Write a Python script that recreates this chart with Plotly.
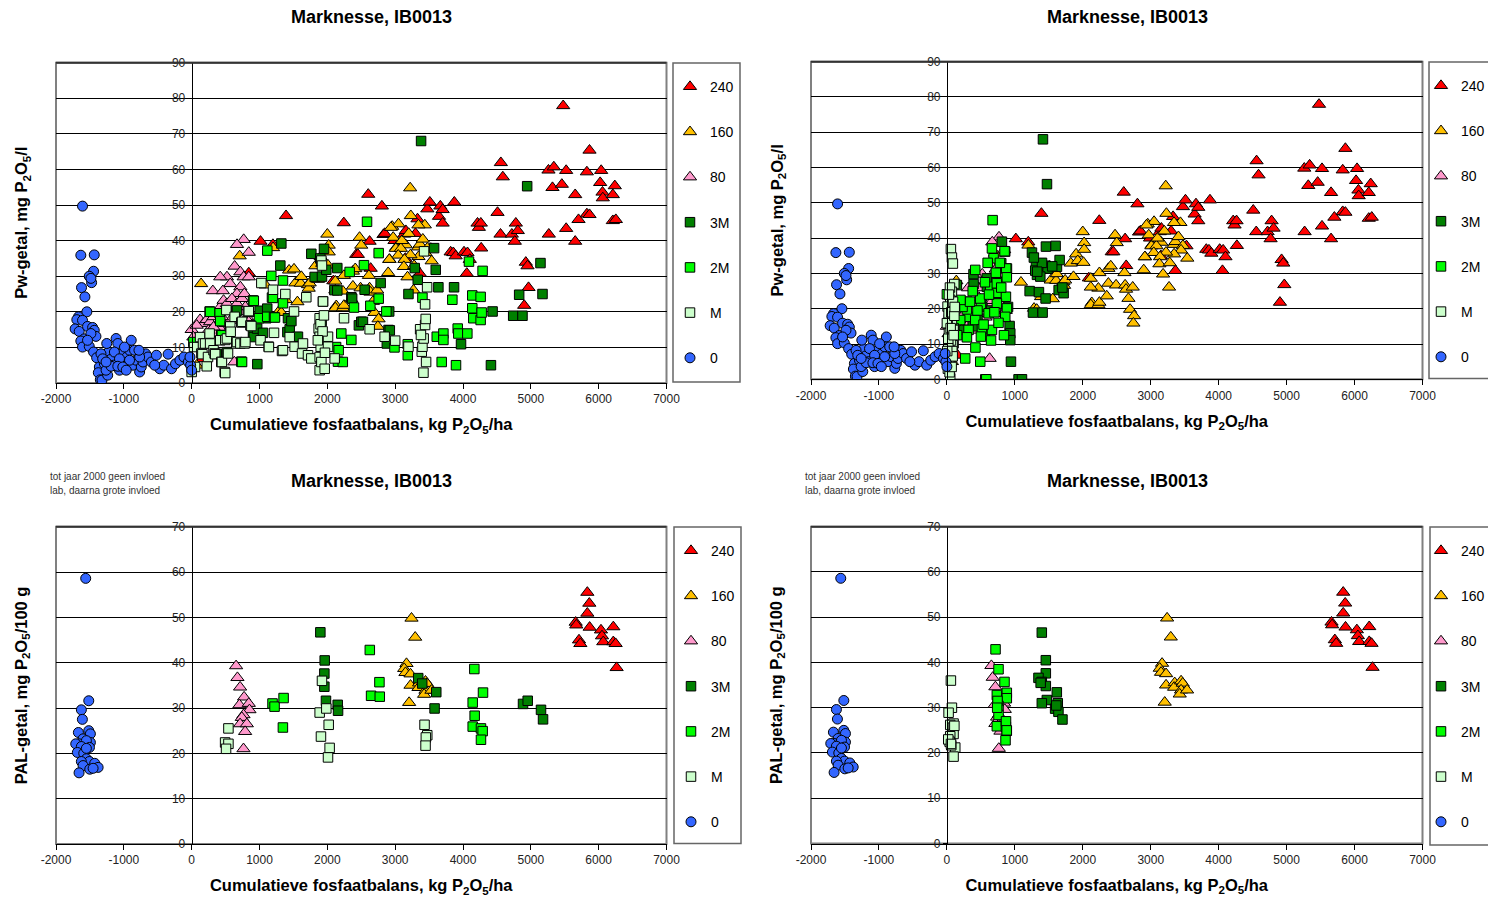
import plotly.graph_objects as go

# ---------------- data ----------------
X_TICKS = [-2000, -1000, 0, 1000, 2000, 3000, 4000, 5000, 6000, 7000]
X_TICKTEXT = ["-2000", "-1000", "0", "1000", "2000", "3000", "4000", "5000", "6000", "7000"]
Y_TICKS_TOP = [0, 10, 20, 30, 40, 50, 60, 70, 80, 90]
Y_TICKS_BOT = [0, 10, 20, 30, 40, 50, 60, 70]
SERIES_NAMES = ["240", "160", "80", "3M", "2M", "M", "0"]

# Pw-getal panels (top) - series shared by both top panels
TOP_0 = [(-1609, 49.7), (-1634, 35.9), (-1436, 36.0), (-1446, 31.4), (-1510, 30.0), (-1475, 28.2),
         (-1485, 29.4), (-1624, 26.8), (-1574, 24.2), (-1545, 20.0), (-1668, 18.6), (-1693, 17.8),
         (-1718, 15.2), (-1658, 14.5), (-1609, 17.6), (-1535, 15.9), (-1460, 15.6), (-1436, 14.8),
         (-1584, 12.4), (-1634, 11.8), (-1609, 10.1), (-1510, 10.3), (-1446, 8.7), (-1411, 13.1),
         (-1401, 7.1), (-1361, 4.5), (-1376, 2.9), (-1347, 0.9), (-1322, 0.8), (-1238, 2.2),
         (-1287, 5.4), (-1223, 8.7), (-1252, 11.1), (-1198, 6.6), (-1114, 12.5), (-1089, 11.1),
         (-1153, 5.0), (-1064, 3.6), (-1015, 8.4), (-990, 5.9), (-955, 7.3), (-891, 12.0),
         (-916, 9.2), (-866, 5.0), (-817, 6.4), (-767, 3.1), (-743, 4.5), (-718, 5.9), (-678, 8.2),
         (-644, 7.3), (-594, 5.9), (-520, 7.8), (-470, 4.0), (-411, 5.0), (-347, 8.1), (-297, 4.0),
         (-238, 5.4), (-173, 6.4), (-114, 7.3), (-50, 5.9), (-15, 5.0), (0, 3.6), (-25, 7.3),
         (-990, 10.1), (-916, 6.4), (-1262, 3.6), (-1139, 8.7), (-1064, 6.8), (-1188, 4.7),
         (-1089, 4.7), (-842, 9.2), (-767, 7.3), (-1485, 13.9), (-1535, 12.0), (-1337, 8.2),
         (-1312, 6.8), (-1262, 5.9), (-1015, 4.5), (-965, 3.6), (-777, 9.2), (-545, 5.0)]

TOP_80 = [(767, 40.3), (668, 38.9), (842, 36.7), (634, 32.8), (718, 31.2), (520, 29.8), (421, 29.8),
          (767, 29.8), (842, 29.8), (569, 27.9), (718, 27.0), (312, 25.9), (460, 25.9), (668, 25.1),
          (124, 17.8), (173, 16.7), (223, 17.8), (272, 17.2), (322, 18.6), (371, 19.5), (421, 21.4),
          (470, 23.2), (520, 22.3), (594, 23.7), (644, 20.9), (718, 20.0), (792, 21.4), (817, 18.6),
          (421, 15.3), (371, 13.9), (495, 16.7), (569, 17.6), (629, 5.9), (0, 15.0), (25, 12.9),
          (74, 16.2), (248, 14.8), (322, 15.7), (446, 18.6), (495, 20.0), (668, 22.3), (743, 23.7),
          (777, 25.1), (842, 17.2), (866, 19.5)]

TOP_160 = [(74, 5.0), (139, 27.9), (708, 35.7), (1090, 27.5), (1200, 38.0), (1283, 20.1), (1322, 19.8),
           (1386, 23.4), (1436, 31.7), (1509, 32.0), (1528, 28.1), (1559, 22.8), (1608, 28.0),
           (1617, 29.9), (1715, 27.6), (1725, 26.6), (1740, 28.1), (1824, 32.9), (1863, 29.1),
           (1902, 35.5), (1926, 33.6), (2000, 41.8), (2020, 38.7), (2020, 36.8), (2010, 33.1),
           (2118, 28.6), (2132, 21.7), (2118, 21.1), (2230, 21.1), (2245, 21.8), (2230, 25.8),
           (2118, 26.1), (2245, 30.2), (2353, 23.6), (2377, 27.2), (2377, 31.4), (2412, 32.1),
           (2475, 40.9), (2500, 38.7), (2490, 26.7), (2623, 26.7), (2637, 25.5), (2735, 26.1),
           (2672, 22.9), (2696, 19.8), (2755, 18.0), (2745, 15.9), (2613, 30.2), (2956, 44.0),
           (3049, 44.7), (2971, 40.9), (3015, 38.1), (2917, 34.7), (2897, 31.0), (3221, 54.8),
           (3231, 47.0), (2937, 43.7), (3437, 44.4), (3157, 38.8), (3010, 37.8), (3084, 37.8),
           (3340, 38.2), (3363, 39.0), (3408, 40.4), (3474, 37.9), (3538, 34.3), (3447, 36.6),
           (3344, 35.5), (3225, 36.0), (3045, 35.9), (2913, 34.7), (3137, 34.7), (3128, 32.7),
           (3182, 29.8), (3270, 26.1), (3100, 40.0), (3280, 33.0), (3200, 42.0), (3343, 44.4)]

TOP_240 = [(158, 6.8), (842, 30.9), (1015, 39.8), (1198, 38.9), (1391, 47.0), (2089, 28.7), (2243, 45.0),
           (2426, 36.1), (2450, 36.1), (2603, 53.0), (2623, 39.8), (2639, 32.2), (2804, 49.7),
           (2828, 41.7), (2847, 42.0), (2990, 40.0), (3133, 41.8), (3150, 35.0), (3157, 42.8),
           (3300, 42.0), (3329, 46.1), (3363, 30.8), (3474, 48.9), (3511, 50.8), (3526, 37.8),
           (3646, 46.8), (3666, 49.7), (3700, 48.7), (3700, 44.9), (3818, 36.8), (3857, 36.6),
           (3872, 50.8), (3892, 35.7), (4015, 36.8), (4056, 30.8), (4066, 36.6), (4100, 34.7),
           (4214, 44.9), (4234, 43.7), (4263, 44.9), (4268, 37.9), (4509, 47.9), (4553, 41.8),
           (4558, 61.9), (4587, 57.9), (4720, 41.8), (4764, 39.8), (4779, 44.9), (4808, 42.8),
           (4902, 21.8), (4926, 33.9), (4951, 32.9), (4966, 26.8), (5260, 59.8), (5265, 41.8),
           (5319, 54.9), (5339, 60.7), (5457, 55.8), (5477, 77.9), (5521, 59.7), (5521, 43.4),
           (5654, 52.9), (5654, 39.8), (5703, 45.9), (5826, 59.3), (5826, 47.5), (5865, 65.4),
           (5865, 47.3), (6022, 56.3), (6037, 59.7), (6057, 53.6), (6061, 52.0), (6209, 52.9),
           (6209, 45.6), (6238, 55.4), (6253, 45.9)]

# top-left manure series
TL_M = [(0, 3.1), (35, 10.1), (50, 4.5), (124, 12.9), (143, 8.3), (158, 8.1), (167, 11.1), (198, 11.1),
        (223, 4.7), (241, 7.3), (265, 13.9), (272, 11.1), (322, 9.2), (339, 8.3), (347, 8.1), (421, 12.0),
        (437, 5.9), (446, 5.9), (486, 3.1), (495, 2.8), (496, 12.1), (511, 20.5), (520, 12.5), (536, 8.3),
        (560, 16.0), (569, 15.9), (575, 14.4), (634, 18.6), (658, 11.1), (668, 11.5), (718, 11.1),
        (732, 17.0), (743, 17.2), (781, 11.1), (792, 11.5), (830, 20.1), (842, 20.2), (866, 16.2),
        (880, 16.0), (1015, 12.0), (1027, 28.1), (1135, 10.2), (1139, 10.1), (1199, 26.2), (1214, 14.1),
        (1332, 9.0), (1346, 9.2), (1381, 25.0), (1445, 12.9), (1509, 20.1), (1518, 10.2), (1627, 8.3),
        (1641, 11.1), (1690, 24.1), (1715, 7.8), (1764, 6.9), (1872, 15.3), (1887, 18.2), (1887, 13.0),
        (1887, 7.3), (1887, 3.6), (1902, 10.2), (1912, 5.9), (1912, 34.4), (1921, 33.0), (1936, 22.9),
        (1961, 4.0), (2010, 10.2), (2010, 13.0), (2108, 6.9), (2246, 18.2), (2624, 15.1), (2845, 13.0),
        (1900, 16.5), (1950, 19.0), (1930, 14.5), (1860, 12.0), (1965, 8.5), (3000, 11.9), (3196, 10.2),
        (3368, 15.1), (3392, 8.8), (3402, 10.2), (3417, 2.9), (3426, 37.0), (3441, 22.1), (3441, 16.3),
        (3456, 5.9), (3471, 26.9), (3420, 12.5), (3380, 13.5), (3450, 18.0)]

TL_2M = [(25, 11.5), (265, 20.1), (272, 20.0), (413, 19.6), (421, 17.4), (437, 13.5), (446, 13.4),
         (732, 6.0), (743, 5.9), (904, 23.2), (916, 23.1), (993, 18.2), (1114, 18.6), (1115, 37.2),
         (1174, 30.1), (1184, 24.0), (1198, 23.9), (1214, 18.5), (1228, 18.4), (1346, 28.8), (1346, 22.4),
         (2129, 10.1), (2157, 6.0), (2167, 9.2), (2206, 13.9), (2228, 5.9), (2329, 31.2), (2354, 12.1),
         (2393, 21.2), (2540, 33.1), (2585, 45.3), (2634, 21.7), (2757, 36.5), (2757, 23.7), (2870, 20.1),
         (2990, 10.0), (3186, 10.9), (3186, 7.8), (3402, 24.0), (3613, 13.0), (3686, 5.9), (3711, 13.9),
         (3711, 12.1), (3843, 23.4), (3897, 5.0), (3922, 15.3), (3931, 13.9), (4064, 13.9), (4088, 34.1),
         (4137, 24.6), (4137, 21.0), (4152, 18.2), (4260, 24.2), (4260, 17.7), (4275, 19.8), (4289, 31.5)]

TL_3M = [(371, 8.2), (520, 8.7), (658, 20.1), (668, 20.4), (904, 14.1), (916, 12.9), (965, 15.3),
         (968, 5.3), (1002, 20.3), (1051, 14.1), (1100, 18.2), (1114, 20.9), (1307, 33.0), (1322, 39.2),
         (1411, 14.3), (1420, 18.2), (1445, 15.1), (1470, 17.4), (1545, 12.9), (1567, 13.0), (1764, 36.3),
         (1813, 29.8), (1896, 35.0), (1916, 17.4), (1921, 29.9), (1936, 22.9), (1951, 37.7), (1985, 31.8),
         (2104, 26.1), (2147, 32.3), (2147, 26.0), (2354, 24.1), (2366, 23.7), (2465, 16.2), (2501, 17.2),
         (2525, 17.2), (2550, 26.2), (2786, 28.1), (2877, 11.1), (2902, 14.9), (2912, 20.1), (2921, 14.8),
         (3196, 25.0), (3289, 32.3), (3333, 29.0), (3382, 68.0), (3574, 37.9), (3598, 31.8), (3637, 26.9),
         (3868, 26.9), (3971, 10.9), (4412, 5.0), (4436, 20.1), (4740, 18.9), (4828, 24.8), (4877, 18.9),
         (4946, 55.3), (5142, 33.7), (5172, 25.0)]

# top-right manure series
TR_M = [(59, 36.9), (74, 34.5), (88, 32.8), (108, 27.0), (74, 24.8), (49, 22.5), (59, 20.2), (10, 20.6),
        (39, 17.7), (74, 16.8), (10, 15.8), (98, 14.0), (74, 12.1), (98, 10.2), (88, 9.7), (49, 7.8),
        (49, 5.9), (49, 0.3), (25, 18.7), (0, 15.9), (30, 13.0), (60, 11.0), (20, 9.0), (80, 8.0),
        (35, 4.5), (15, 3.0), (0, 5.5), (45, 26.0), (90, 22.0), (65, 19.0), (110, 18.0), (20, 11.5),
        (55, 14.5), (85, 6.5), (100, 12.5), (40, 2.0), (70, 3.5), (5, 8.0), (30, 24.0), (115, 20.5)]

TR_2M = [(673, 45.1), (663, 37.1), (849, 36.3), (687, 34.3), (417, 31.0), (721, 30.2), (884, 31.4),
         (873, 31.4), (882, 28.9), (638, 26.2), (0, 24.1), (736, 24.5), (869, 23.4), (501, 21.0),
         (736, 21.5), (884, 20.1), (614, 18.7), (319, 17.7), (859, 17.7), (196, 16.8), (417, 16.8),
         (663, 14.0), (516, 14.2), (319, 14.0), (295, 11.9), (501, 12.1), (270, 5.9), (491, 5.0),
         (565, 0.0), (580, 0.0), (490, 22.9), (735, 27.2), (294, 19.8), (780, 33.0), (560, 27.5),
         (380, 25.0), (620, 24.0), (150, 12.5), (100, 14.5), (230, 20.5), (840, 12.5), (760, 16.0),
         (450, 19.5), (600, 33.0), (700, 19.0), (800, 26.0), (340, 22.0), (540, 15.5), (120, 20.0),
         (60, 10.0), (30, 17.0), (200, 22.5), (650, 11.0), (420, 9.0)]

TR_3M = [(1414, 68.0), (1473, 55.3), (810, 39.0), (858, 36.2), (1458, 37.6), (1600, 37.8), (1252, 35.9),
         (1311, 32.2), (1453, 32.2), (1483, 31.4), (1620, 31.9), (1659, 33.8), (1326, 29.6), (1375, 29.1),
         (800, 32.9), (393, 27.0), (589, 26.2), (1218, 25.0), (1355, 24.7), (1453, 22.9), (1645, 25.3),
         (1718, 24.4), (1267, 18.9), (1409, 18.9), (923, 15.1), (933, 13.0), (933, 11.1), (943, 5.0),
         (1055, 0.0), (1105, 0.0), (147, 26.7), (392, 29.8), (588, 28.6), (700, 24.0), (520, 20.5),
         (300, 22.0), (450, 17.5), (650, 19.5), (250, 14.0), (560, 12.5), (900, 20.5), (780, 27.5),
         (100, 20.0), (380, 15.0), (1300, 30.8), (1400, 33.0), (1550, 32.0), (1700, 26.0), (1280, 34.5),
         (1330, 30.5)]

# PAL-getal panels (bottom) - series shared by both bottom panels
BOT_0 = [(-1562, 58.6), (-1517, 31.6), (-1626, 29.6), (-1611, 27.5), (-1670, 24.6), (-1517, 25.0),
         (-1493, 24.3), (-1601, 23.2), (-1660, 22.1), (-1709, 22.1), (-1493, 22.4), (-1552, 22.8),
         (-1626, 21.5), (-1507, 21.3), (-1685, 20.2), (-1591, 20.0), (-1552, 18.8), (-1507, 18.2),
         (-1626, 18.2), (-1601, 17.3), (-1429, 17.8), (-1379, 16.9), (-1502, 16.5), (-1453, 16.7),
         (-1660, 15.7), (-1552, 21.1)]
BOT_80 = [(655, 39.3), (675, 36.7), (714, 34.6), (773, 32.4), (704, 30.7), (842, 31.0), (852, 29.6),
          (764, 28.5), (739, 27.9), (714, 26.5), (813, 26.5), (788, 24.8), (764, 21.0)]
BOT_160 = [(3241, 49.8), (3295, 45.6), (3167, 39.8), (3133, 38.7), (3152, 37.8), (3226, 37.5),
           (3226, 35.0), (3206, 31.2), (3353, 35.5), (3344, 34.5), (3447, 35.9), (3471, 35.4),
           (3447, 33.9), (3427, 33.0), (3535, 33.9)]
BOT_240 = [(5833, 55.5), (5862, 53.1), (5833, 50.9), (5661, 48.9), (5670, 48.3), (5867, 47.8),
           (5710, 45.0), (5730, 44.2), (6034, 47.2), (6049, 45.9), (6068, 44.6), (6216, 47.9),
           (6216, 44.6), (6250, 44.2), (6265, 38.9)]

BL_M = [(542, 25.5), (493, 22.4), (542, 22.1), (507, 21.0), (1921, 36.0), (1887, 29.0), (1985, 29.9),
        (2020, 26.3), (1906, 23.7), (2034, 21.2), (2010, 19.1), (3433, 26.3), (3473, 24.0), (3452, 23.5),
        (3448, 21.7)]
BL_2M = [(1192, 31.0), (1222, 30.3), (1355, 32.2), (1345, 25.7), (2626, 42.8), (2645, 32.7), (2773, 32.5),
         (2768, 35.7), (4167, 38.6), (4295, 33.4), (4143, 31.2), (4172, 28.3), (4143, 25.9), (4265, 25.5),
         (4290, 24.9), (4265, 23.0)]
BL_3M = [(1897, 46.7), (1961, 40.5), (1956, 37.6), (1956, 34.7), (1980, 31.6), (2153, 30.7), (2158, 29.4),
         (3340, 36.6), (3399, 35.4), (3606, 33.5), (3581, 29.9), (4885, 30.9), (4954, 31.6), (5150, 29.6),
         (5180, 27.5)]

BR_M = [(59, 36.0), (74, 30.0), (25, 28.9), (98, 26.5), (49, 26.2), (88, 25.6), (98, 24.2), (49, 23.7),
        (123, 21.2), (64, 21.7), (98, 19.2), (40, 22.5), (110, 26.0), (20, 23.0), (60, 22.0)]
BR_2M = [(716, 42.9), (760, 38.5), (848, 35.7), (882, 33.3), (882, 32.1), (735, 32.8), (760, 30.4),
         (760, 28.4), (735, 25.9), (868, 25.8), (882, 24.9), (863, 22.8), (745, 31.5), (870, 27.0),
         (740, 30.0), (880, 25.0)]
BR_3M = [(1397, 46.6), (1456, 40.5), (1456, 37.6), (1348, 36.6), (1397, 35.7), (1456, 34.8), (1618, 33.4),
         (1471, 31.7), (1397, 31.0), (1632, 31.0), (1593, 29.8), (1642, 29.1), (1701, 27.4), (1610, 30.5),
         (1380, 35.5)]

# ---------------- styling ----------------
FONT = "Arial, 'Liberation Sans', sans-serif"
STYLE = {
    "240": ("triangle-up", "#ff0000", 11.5),
    "160": ("triangle-up", "#ffc000", 11.5),
    "80": ("triangle-up", "#ff99cc", 11.5),
    "3M": ("square", "#008000", 9.5),
    "2M": ("square", "#00ff00", 9.5),
    "M": ("square", "#ccffcc", 9.5),
    "0": ("circle", "#3366ff", 10),
}

W, H = 1488, 899


def px_x(p):
    return p / W


def px_y(p):
    return 1 - p / H


panels = [
    dict(xa="x", ya="y", lg="legend", xr=(56, 666.5), yr=(62.7, 383), box=(673, 740, 63, 382), legx=670,
         data={"240": TOP_240, "160": TOP_160, "80": TOP_80, "3M": TL_3M, "2M": TL_2M, "M": TL_M, "0": TOP_0},
         ymax=90, yt=Y_TICKS_TOP, ytitle="Pw-getal, mg P<sub>2</sub>O<sub>5</sub>/l", title_y=17, legy=71,
         tx=371),
    dict(xa="x2", ya="y2", lg="legend2", xr=(811, 1422.5), yr=(61.7, 379.3), box=(1429, 1495, 62, 378.5),
         legx=1421,
         data={"240": TOP_240, "160": TOP_160, "80": TOP_80, "3M": TR_3M, "2M": TR_2M, "M": TR_M, "0": TOP_0},
         ymax=90, yt=Y_TICKS_TOP, ytitle="Pw-getal, mg P<sub>2</sub>O<sub>5</sub>/l", title_y=17, legy=70,
         tx=1127),
    dict(xa="x3", ya="y3", lg="legend3", xr=(56, 666.5), yr=(526.7, 844), box=(674, 741, 527, 843.5), legx=671,
         data={"240": BOT_240, "160": BOT_160, "80": BOT_80, "3M": BL_3M, "2M": BL_2M, "M": BL_M, "0": BOT_0},
         ymax=70, yt=Y_TICKS_BOT, ytitle="PAL-getal, mg P<sub>2</sub>O<sub>5</sub>/100 g", title_y=481, legy=535,
         tx=371),
    dict(xa="x4", ya="y4", lg="legend4", xr=(811, 1422.5), yr=(526.7, 843.5), box=(1430, 1495, 527, 845),
         legx=1421,
         data={"240": BOT_240, "160": BOT_160, "80": BOT_80, "3M": BR_3M, "2M": BR_2M, "M": BR_M, "0": BOT_0},
         ymax=70, yt=Y_TICKS_BOT, ytitle="PAL-getal, mg P<sub>2</sub>O<sub>5</sub>/100 g", title_y=481, legy=535,
         tx=1127),
]

fig = go.Figure()
layout = dict(width=W, height=H, margin=dict(l=0, r=0, t=0, b=0, autoexpand=False), autosize=False,
              paper_bgcolor="white", plot_bgcolor="white", font=dict(family=FONT, color="black"),
              showlegend=True)
shapes = []
annotations = []

for p in panels:
    for name in SERIES_NAMES:
        sym, col, size = STYLE[name]
        pts = p["data"][name]
        fig.add_trace(go.Scatter(
            x=[a for a, b in pts], y=[b for a, b in pts], mode="markers", name=name,
            xaxis=p["xa"], yaxis=p["ya"], legend=p["lg"], legendgroup=p["lg"] + name,
            marker=dict(symbol=sym, color=col, size=size, line=dict(color="black", width=1)),
            hoverinfo="x+y+name"))

    xd = [px_x(p["xr"][0]), px_x(p["xr"][1])]
    yd = [px_y(p["yr"][1]), px_y(p["yr"][0])]
    xkey = "xaxis" + p["xa"][1:]
    ykey = "yaxis" + p["ya"][1:]
    layout[xkey] = dict(domain=xd, anchor=p["ya"], range=[-2000, 7000], tickvals=X_TICKS,
                        ticktext=X_TICKTEXT, ticks="outside", ticklen=5, tickcolor="black",
                        showline=True, linecolor="black", linewidth=1, showgrid=False, zeroline=False,
                        tickfont=dict(size=12, color="#222"),
                        title=dict(text="<b>Cumulatieve fosfaatbalans, kg P<sub>2</sub>O<sub>5</sub>/ha</b>",
                                   font=dict(size=16.5, color="black"), standoff=13))
    pos0 = xd[0] + (xd[1] - xd[0]) * 2000 / 9000
    layout[ykey] = dict(domain=yd, anchor="free", position=pos0, range=[0, p["ymax"]], tickvals=p["yt"],
                        ticks="outside", ticklen=4, tickcolor="black", showline=True, linecolor="black",
                        linewidth=1, showgrid=True, gridcolor="black", gridwidth=1, zeroline=False,
                        tickfont=dict(size=12, color="#222"))
    # plot-area frame
    shapes.append(dict(type="rect", xref=p["xa"] + " domain", yref=p["ya"] + " domain", x0=0, x1=1, y0=0, y1=1,
                       line=dict(color="#808080", width=2), layer="below"))
    shapes.append(dict(type="line", xref=p["xa"] + " domain", yref=p["ya"] + " domain", x0=0, x1=1, y0=1, y1=1,
                       line=dict(color="#333333", width=2)))
    # legend box
    bx0, bx1, by0, by1 = p["box"]
    shapes.append(dict(type="rect", xref="paper", yref="paper", x0=px_x(bx0), x1=px_x(bx1),
                       y0=px_y(by1), y1=px_y(by0), line=dict(color="#666666", width=1.5)))
    layout[p["lg"]] = dict(x=px_x(p["legx"]), y=px_y(p["legy"]), xanchor="left", yanchor="top",
                           traceorder="grouped", tracegroupgap=24, bgcolor="rgba(0,0,0,0)",
                           borderwidth=0, font=dict(size=14, color="black", family=FONT), itemwidth=30)
    # chart title
    annotations.append(dict(text="<b>Marknesse, IB0013</b>", xref="paper", yref="paper",
                            x=px_x(p["tx"]), y=px_y(p["title_y"]),
                            xanchor="center", yanchor="middle", showarrow=False,
                            font=dict(size=18, color="black", family=FONT)))
    # y-axis title
    annotations.append(dict(text="<b>" + p["ytitle"] + "</b>", xref="paper", yref="paper",
                            x=px_x(p["xr"][0] - 34), y=px_y((p["yr"][0] + p["yr"][1]) / 2),
                            xanchor="center", yanchor="middle", textangle=-90, showarrow=False,
                            font=dict(size=16.5, color="black", family=FONT)))

# small notes above the bottom panels
for x0 in (48, 803):
    annotations.append(dict(text="tot jaar 2000 geen invloed", xref="paper", yref="paper",
                            x=px_x(x0), y=px_y(476), xanchor="left", yanchor="middle", showarrow=False,
                            font=dict(size=10, color="#333", family=FONT)))
    annotations.append(dict(text="lab, daarna grote invloed", xref="paper", yref="paper",
                            x=px_x(x0), y=px_y(490), xanchor="left", yanchor="middle", showarrow=False,
                            font=dict(size=10, color="#333", family=FONT)))

layout["shapes"] = shapes
layout["annotations"] = annotations
fig.update_layout(**layout)
fig.write_html("out.html")
